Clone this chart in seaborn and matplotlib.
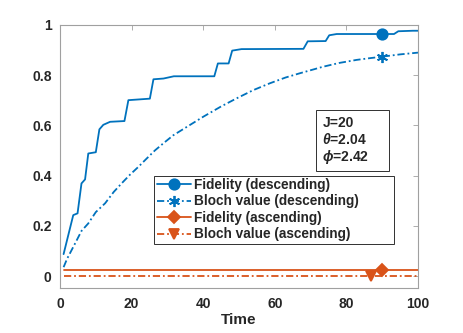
import matplotlib.pyplot as plt
import pandas as pd
import seaborn as sns
from matplotlib.lines import Line2D
from matplotlib.patches import Rectangle

# Fidelity (descending): step-like curve
fid_desc_t = [1, 3.7, 4.9, 6.0, 7.0, 7.9, 10.0, 11.0, 12.1, 14.0, 18.0, 19.1, 25.1, 26.1,
              28.9, 31.8, 43.1, 44.1, 47.1, 48.1, 50.7, 68.0, 69.2, 74.2, 75.2, 77.3,
              93.3, 94.5, 98.6, 100]
fid_desc_v = [0.088, 0.243, 0.25, 0.369, 0.385, 0.488, 0.493, 0.584, 0.602, 0.614, 0.617,
              0.70, 0.706, 0.783, 0.786, 0.795, 0.795, 0.846, 0.846, 0.897, 0.903, 0.904,
              0.934, 0.935, 0.958, 0.963, 0.963, 0.974, 0.976, 0.976]

# Bloch value (descending)
bloch_desc_t = [1, 2, 4.2, 6, 7.9, 10, 12.6, 15, 17.2, 19.5, 21.9, 24, 26.5, 29, 31.6,
                35, 40, 45, 49.3, 54, 58.6, 63, 67, 73.5, 78, 82.8, 86, 90, 95, 100]
bloch_desc_v = [0.036, 0.07, 0.13, 0.18, 0.21, 0.255, 0.29, 0.335, 0.369, 0.403, 0.435,
                0.465, 0.50, 0.53, 0.56, 0.59, 0.634, 0.675, 0.707, 0.74, 0.767, 0.79,
                0.807, 0.833, 0.848, 0.86, 0.866, 0.873, 0.882, 0.889]

# ascending runs stay flat
fid_asc_t = [1, 100]
fid_asc_v = [0.025, 0.025]
bloch_asc_t = [1, 100]
bloch_asc_v = [0.0, 0.0]

# single marker positions
marker_t = [90, 90, 90, 87]
marker_v = [0.963, 0.873, 0.025, 0.0]

labels = ["Fidelity (descending)", "Bloch value (descending)",
          "Fidelity (ascending)", "Bloch value (ascending)"]
info_lines = ["J=20", r"$\theta$=2.04", r"$\phi$=2.42"]

blue = "#0072BD"
orange = "#D95319"
colors = [blue, blue, orange, orange]
asterisk = (6, 2, 0)
markers = ["o", asterisk, "D", "v"]
msizes = [7.5, 8, 6, 7.5]
dashdot = (4, 1.6, 1, 1.6)

sns.set_theme(style="white")
plt.rcParams["font.family"] = ["Liberation Sans", "DejaVu Sans"]
plt.rcParams["font.weight"] = "bold"
plt.rcParams["mathtext.fontset"] = "custom"
plt.rcParams["mathtext.it"] = "Liberation Sans:italic:bold"
plt.rcParams["mathtext.rm"] = "Liberation Sans:bold"

fig = plt.figure(figsize=(4.63, 3.33), dpi=100)
ax = fig.add_axes([0.1296, 0.1342, 0.7732, 0.7916])

series = [
    (fid_desc_t, fid_desc_v, "-"),
    (bloch_desc_t, bloch_desc_v, "-."),
    (fid_asc_t, fid_asc_v, "-"),
    (bloch_asc_t, bloch_asc_v, "-."),
]
for i, (t, v, ls) in enumerate(series):
    df = pd.DataFrame({"t": t, "v": v})
    sns.lineplot(data=df, x="t", y="v", ax=ax, color=colors[i], lw=1.3,
                 estimator=None, sort=False)
    if ls == "-.":
        ax.lines[-1].set_dashes(dashdot)

for i in range(4):
    ax.plot(marker_t[i], marker_v[i], marker=markers[i], color=colors[i],
            ms=msizes[i], mew=1.3, ls="none")

ax.set_xlim(0, 100)
ax.set_ylim(-0.048, 1)
ax.set_xticks([0, 20, 40, 60, 80, 100])
ax.set_yticks([0, 0.2, 0.4, 0.6, 0.8, 1])
ax.set_yticklabels(["0", "0.2", "0.4", "0.6", "0.8", "1"])
ax.set_xlabel("Time", fontsize=11, fontweight="bold", color="#262626", labelpad=2)
ax.set_ylabel("")
ax.tick_params(direction="in", length=3.5, width=0.6, colors="#a0a0a0",
               labelcolor="#262626", labelsize=10, top=True, right=True, pad=6)
for lab in ax.get_xticklabels() + ax.get_yticklabels():
    lab.set_fontweight("bold")
for s in ax.spines.values():
    s.set_color("#a0a0a0")
    s.set_linewidth(0.8)

# legend boxes are wider than their text, so the frames are drawn separately
ax.add_patch(Rectangle((0.2626, 0.1676), 0.6704, 0.2574, transform=ax.transAxes,
                       fc="white", ec="#303030", lw=0.7, zorder=4))
ax.add_patch(Rectangle((0.714, 0.445), 0.206, 0.232, transform=ax.transAxes,
                       fc="white", ec="#303030", lw=0.7, zorder=4))

handles = [
    Line2D([], [], color=colors[i], lw=1.3, marker=markers[i], ms=msizes[i], mew=1.3,
           ls="-" if i % 2 == 0 else (0, dashdot))
    for i in range(4)
]
leg = ax.legend(handles, labels, loc="lower left", bbox_to_anchor=(0.262, 0.168),
                frameon=False, fontsize=9.8, handlelength=2.5,
                handletextpad=0.25, borderpad=0.2, labelspacing=0.18, borderaxespad=0)
leg.set_zorder(5)
for txt in leg.get_texts():
    txt.set_fontweight("bold")
    txt.set_color("#262626")

ax.text(0.733, 0.652, "\n".join(info_lines), transform=ax.transAxes, fontsize=10,
        fontweight="bold", va="top", ha="left", color="#262626", linespacing=1.1,
        zorder=5)

fig.savefig("out.png", dpi=100)
